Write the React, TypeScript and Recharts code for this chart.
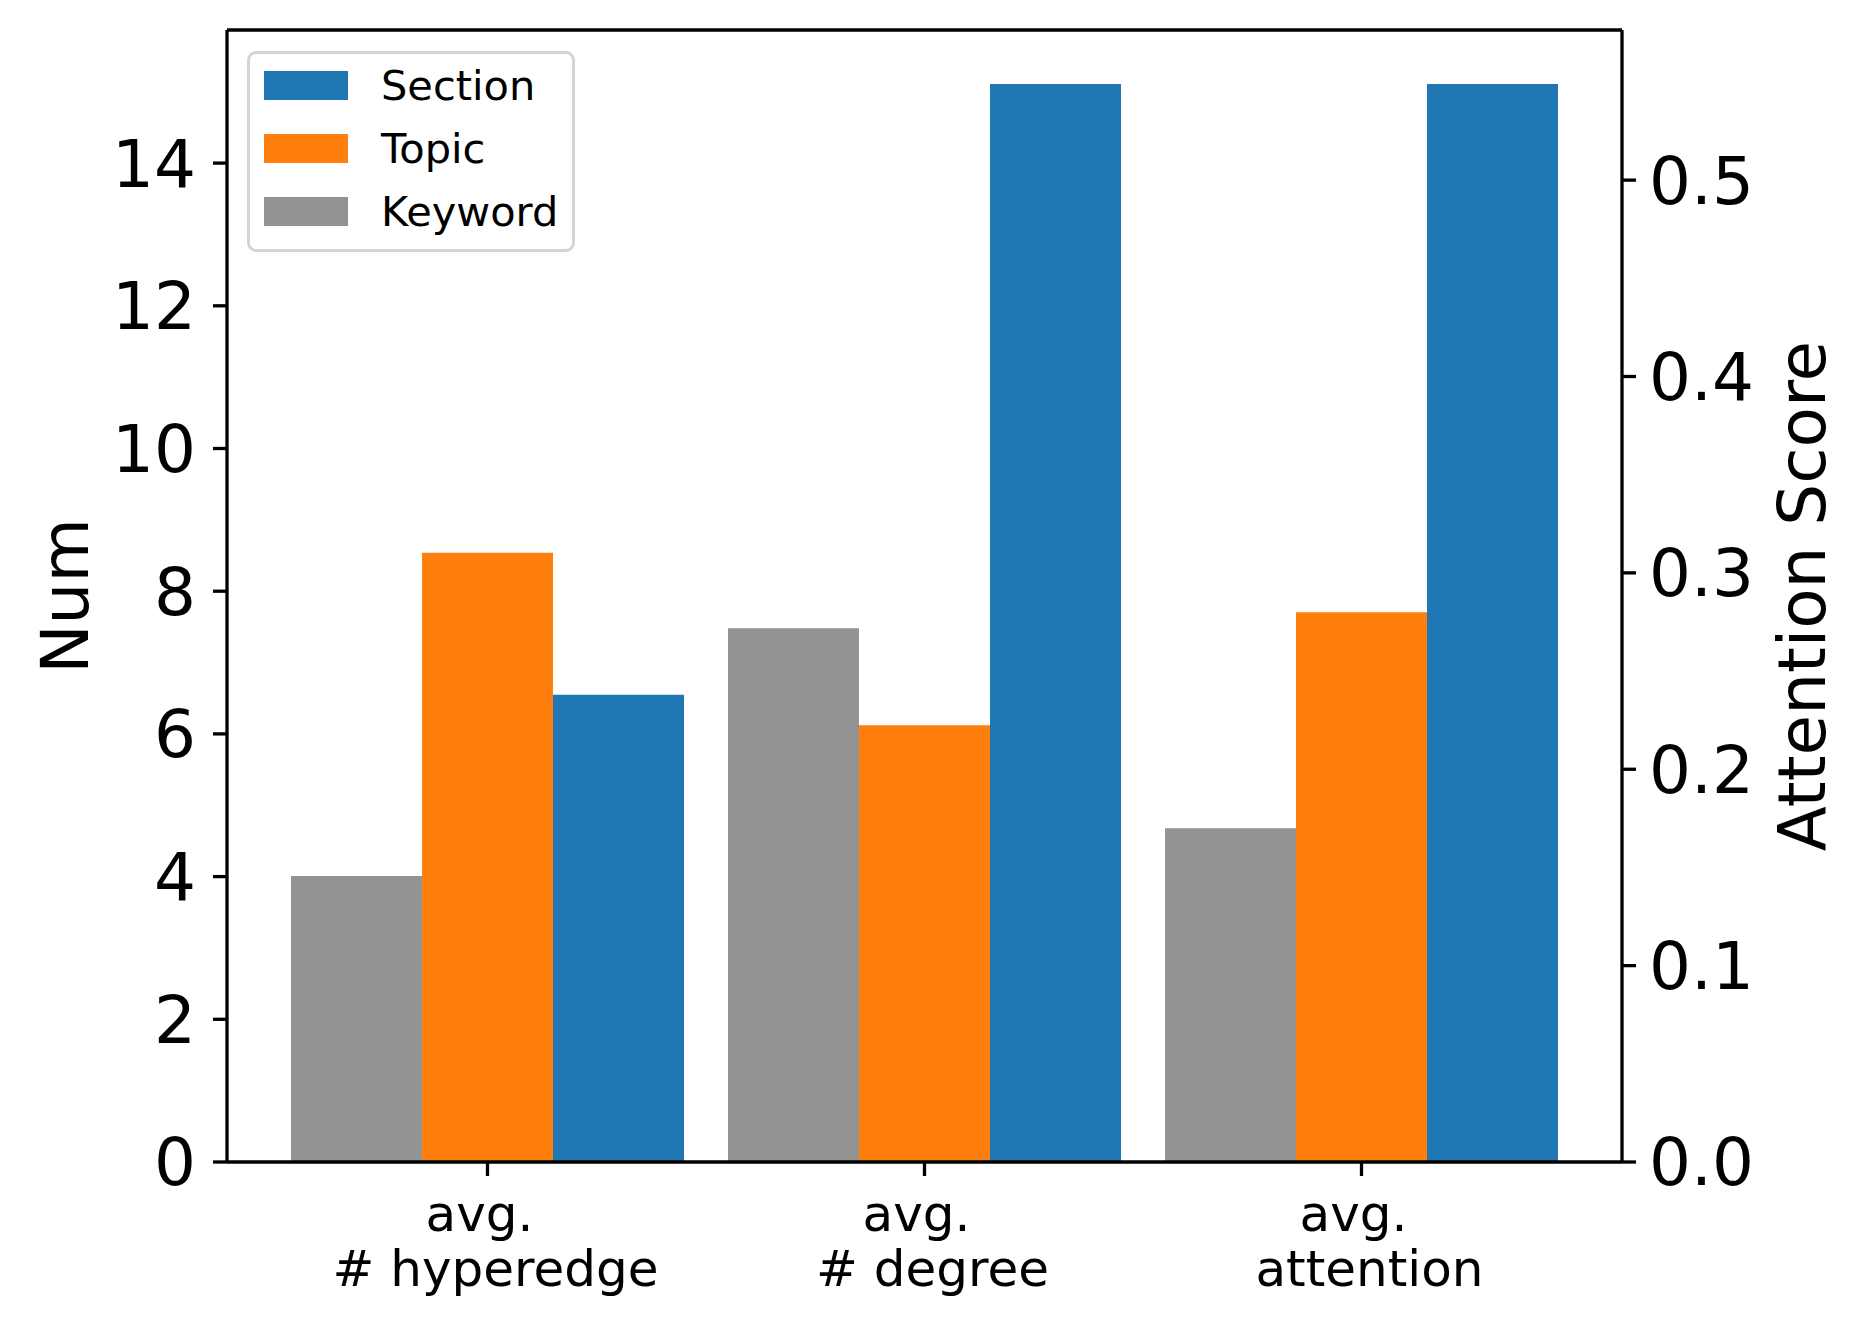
import { BarChart, Bar, XAxis, YAxis, Legend, ReferenceLine } from 'recharts';

const categories = ['avg. \n # hyperedge', 'avg. \n # degree', 'avg. \n attention'];

// left axis (Num)
const keywordNum = [4.01, 7.48, null];
const topicNum = [8.54, 6.12, null];
const sectionNum = [6.55, 15.11, null];

// right axis (Attention Score)
const keywordAttn = [null, null, 0.17];
const topicAttn = [null, null, 0.28];
const sectionAttn = [null, null, 0.549];

const numTicks = [0, 2, 4, 6, 8, 10, 12, 14];
const attnTicks = [0, 0.1, 0.2, 0.3, 0.4, 0.5];

const KEYWORD = '#939393';
const TOPIC = '#ff7f0e';
const SECTION = '#1f77b4';

const legendItems = [
  { name: 'Section', color: SECTION },
  { name: 'Topic', color: TOPIC },
  { name: 'Keyword', color: KEYWORD },
];

const data = categories.map((name, i) => ({
  name,
  keyword: keywordNum[i],
  topic: topicNum[i],
  section: sectionNum[i],
  keywordAttn: keywordAttn[i],
  topicAttn: topicAttn[i],
  sectionAttn: sectionAttn[i],
}));

// matplotlib-style 5% headroom
const numMax = Math.max(...(sectionNum.concat(topicNum, keywordNum).filter((v) => v != null) as number[])) * 1.05;
const attnMax = Math.max(...(sectionAttn.concat(topicAttn, keywordAttn).filter((v) => v != null) as number[])) * 1.05;

const FONT = '"DejaVu Sans", sans-serif';
const LINE = { stroke: '#000', strokeWidth: 3.3 };

function CategoryTick({ x, y, payload }: any) {
  const lines = String(payload.value).split('\n');
  return (
    <text x={x} y={y} textAnchor="middle" fontSize={50} fill="#000" fontFamily={FONT} style={{ whiteSpace: 'pre' }}>
      {lines.map((l, i) => (
        <tspan key={i} x={x} dy={55}>
          {l}
        </tspan>
      ))}
    </text>
  );
}

function LegendBox() {
  return (
    <div
      style={{
        position: 'relative',
        width: 328,
        height: 201,
        boxSizing: 'border-box',
        border: '3px solid #d4d4d4',
        borderRadius: 9,
        background: 'rgba(255,255,255,0.8)',
        fontFamily: FONT,
      }}
    >
      {legendItems.map((it, i) => (
        <div key={it.name}>
          <div
            style={{
              position: 'absolute',
              left: 14,
              top: 17 + i * 63,
              width: 84,
              height: 29,
              background: it.color,
            }}
          />
          <div
            style={{
              position: 'absolute',
              left: 131,
              top: 31.5 + i * 63 - 25,
              height: 50,
              lineHeight: '50px',
              fontSize: 41.5,
              color: '#000',
              whiteSpace: 'nowrap',
            }}
          >
            {it.name}
          </div>
        </div>
      ))}
    </div>
  );
}

export default function App() {
  return (
    <div style={{ width: 1850, height: 1300, fontFamily: FONT }}>
      <BarChart
        width={1850}
        height={1300}
        data={data}
        margin={{ top: 22, right: 0, bottom: 0, left: 0 }}
        barGap={0}
        barSize={131}
      >
        <XAxis
          dataKey="name"
          height={146}
          padding={{ left: 42, right: 42 }}
          tickSize={14}
          tickMargin={0}
          axisLine={LINE}
          tickLine={LINE}
          tick={<CategoryTick />}
          interval={0}
        />
        <YAxis
          yAxisId="left"
          width={219}
          domain={[0, numMax]}
          ticks={numTicks}
          interval={0}
          tickSize={14}
          tickMargin={17}
          axisLine={LINE}
          tickLine={LINE}
          tick={{ fontSize: 66, fill: '#000', fontFamily: FONT }}
          label={{
            content: ({ viewBox }: any) => {
              const cx = viewBox.x + 80;
              const cy = viewBox.y + viewBox.height / 2;
              return (
                <text x={cx} y={cy} transform={`rotate(-90, ${cx}, ${cy})`} textAnchor="middle" fontSize={66} fill="#000" fontFamily={FONT}>
                  Num
                </text>
              );
            },
          }}
        />
        <YAxis
          yAxisId="right"
          orientation="right"
          width={236}
          domain={[0, attnMax]}
          ticks={attnTicks}
          interval={0}
          tickSize={14}
          tickMargin={13}
          axisLine={LINE}
          tickLine={LINE}
          tickFormatter={(v: number) => v.toFixed(1)}
          tick={{ fontSize: 66, fill: '#000', fontFamily: FONT }}
          label={{
            content: ({ viewBox }: any) => {
              const cx = viewBox.x + 203;
              const cy = viewBox.y + viewBox.height / 2;
              return (
                <text x={cx} y={cy} transform={`rotate(-90, ${cx}, ${cy})`} textAnchor="middle" fontSize={66} fill="#000" fontFamily={FONT}>
                  Attention Score
                </text>
              );
            },
          }}
        />
        <ReferenceLine yAxisId="left" y={numMax} stroke="#000" strokeWidth={3.3} />
        <Legend
          layout="horizontal"
          verticalAlign="middle"
          align="center"
          width={328}
          height={201}
          wrapperStyle={{ left: 239, top: 43, width: 328, height: 201 }}
          content={() => <LegendBox />}
        />
        <Bar yAxisId="left" dataKey="keyword" name="Keyword" stackId="kw" fill={KEYWORD} isAnimationActive={false} />
        <Bar yAxisId="right" dataKey="keywordAttn" name="Keyword" stackId="kw" fill={KEYWORD} isAnimationActive={false} legendType="none" />
        <Bar yAxisId="left" dataKey="topic" name="Topic" stackId="tp" fill={TOPIC} isAnimationActive={false} />
        <Bar yAxisId="right" dataKey="topicAttn" name="Topic" stackId="tp" fill={TOPIC} isAnimationActive={false} legendType="none" />
        <Bar yAxisId="left" dataKey="section" name="Section" stackId="sc" fill={SECTION} isAnimationActive={false} />
        <Bar yAxisId="right" dataKey="sectionAttn" name="Section" stackId="sc" fill={SECTION} isAnimationActive={false} legendType="none" />
      </BarChart>
    </div>
  );
}
